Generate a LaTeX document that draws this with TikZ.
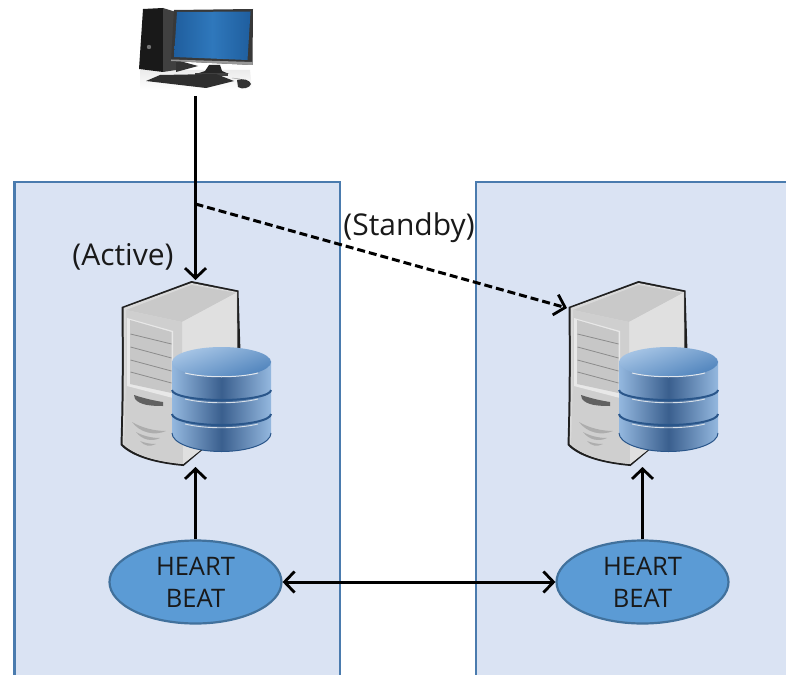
\documentclass[tikz,border=0pt]{standalone}
\usepackage{fontspec}
\setmainfont{Open Sans}
\usetikzlibrary{arrows.meta,shapes.geometric}
\definecolor{panelfill}{HTML}{DAE3F3}
\definecolor{panelline}{HTML}{4A7BAE}
\definecolor{hbfill}{HTML}{5B9BD5}
\definecolor{hbline}{HTML}{41719C}
\definecolor{dbedge}{HTML}{94B8DF}
\definecolor{dbdark}{HTML}{3A5F8E}
\definecolor{dbtopa}{HTML}{A8C6E6}
\definecolor{dbtopb}{HTML}{4F83BC}
\definecolor{dbline}{HTML}{2A568A}
\definecolor{screena}{HTML}{2F78BC}
\definecolor{screenb}{HTML}{1F5E9E}
\tikzset{
  x=1pt,y=-1pt,
  panel/.style={fill=panelfill,draw=panelline,line width=2.2pt},
  beat/.style={ellipse,fill=hbfill,draw=hbline,line width=2.2pt,minimum width=172pt,minimum height=83pt,inner sep=0pt,align=center,font=\fontsize{25.5}{32}\selectfont,text=black!90},
  label/.style={inner sep=0pt,font=\fontsize{30}{36}\selectfont,text=black!90},
  anchorbox/.style={inner sep=0pt,minimum width=0pt,minimum height=0pt},
  link/.style={line width=3pt,black,-{Straight Barb[length=10pt,width=21pt,line width=2.8pt]}},
  twolink/.style={line width=3pt,black,{Straight Barb[length=10pt,width=21pt,line width=2.8pt]}-{Straight Barb[length=10pt,width=21pt,line width=2.8pt]}},
  dashlink/.style={link,dash pattern=on 8pt off 4pt},
  server/.pic={
    % body
    \fill[black!88] (121.5,307) -- (191.5,281) -- (238.5,290.5) -- (240.5,352) -- (240,420) -- (200,452) -- (183.5,466) .. controls (150,463) and (130,455) .. (120.5,445) .. controls (122,400) and (122,350) .. (121.5,307) -- cycle;
    \fill[black!15] (123.5,308) -- (191.5,283) -- (237,292) -- (238,420) -- (183,464) .. controls (150,461) and (132,453) .. (122.5,444) .. controls (124,400) and (124,350) .. (123.5,308) -- cycle;
    \fill[black!21] (126,310) -- (191.5,285) -- (236,293) -- (182,322) -- cycle;
    \fill[black!12] (182,322) -- (236,293) -- (238,420) -- (183,464) -- cycle;
    \fill[black!19] (182,322) -- (183,464) .. controls (150,461) and (132,453) .. (124,444) .. controls (126,400) and (126,350) .. (126,310) -- cycle;
    % front panel
    \fill[black!9] (127,318) -- (173,331) -- (173,398) -- (127,386) -- cycle;
    \fill[black!22] (130,320) -- (171.5,332) -- (171.5,393) -- (130,384) -- cycle;
    \foreach \a/\b in {334/344,347/358,360/371,372/383}
      \draw[black!45,line width=.8pt] (130.5,\a) -- (171.5,\b);
    % slot
    \fill[black!62] (134,395) .. controls (140,397) and (150,400) .. (163,402) -- (163,406) .. controls (150,406) and (140,405) .. (135,399) -- cycle;
    % vents
    \fill[black!32] (132,422) .. controls (142,428) and (155,431) .. (166,431) .. controls (155,436) and (140,433) .. (132,422) -- cycle;
    \fill[black!32] (136,432) .. controls (143,436) and (152,438) .. (160,438) .. controls (152,442) and (142,440) .. (136,432) -- cycle;
    \fill[black!32] (140,441) .. controls (145,443) and (150,444) .. (156,444) .. controls (150,447) and (144,446) .. (140,441) -- cycle;
    % database
    \shade[left color=dbedge,right color=dbedge,middle color=dbdark] (172,361) -- (172,433) arc[start angle=180,end angle=360,x radius=49.5pt,y radius=18.5pt] -- (271,361) -- cycle;
    \shade[left color=dbtopa,right color=dbtopb,shading angle=20] (221.5,362) ellipse[x radius=49.5pt,y radius=15pt];
    \draw[white!85!dbdark,line width=1pt] (185,373) .. controls (205,378) and (238,378) .. (258,373);
    \draw[dbline,line width=2pt] (172,390) arc[start angle=180,end angle=360,x radius=49.5pt,y radius=10pt];
    \draw[white!80!dbdark,line width=.9pt] (185,399) .. controls (205,404) and (238,404) .. (258,399);
    \draw[dbline,line width=2pt] (172,414) arc[start angle=180,end angle=360,x radius=49.5pt,y radius=11pt];
    \draw[white!80!dbdark,line width=.9pt] (185,424) .. controls (205,429) and (238,429) .. (258,424);
    \draw[dbline,line width=1pt] (172,433) arc[start angle=180,end angle=360,x radius=49.5pt,y radius=18.5pt];
  }
}
\begin{document}
\begin{tikzpicture}
\useasboundingbox (0,0) rectangle (786,674);
\fill[white] (0,0) rectangle (786,674);
% panels
\draw[panel] (14.5,182) rectangle (340,690);
\draw[panel] (476,182) rectangle (800,690);
% computer
\shade[top color=black!8,bottom color=white] (140,70) -- (250,70) -- (252,90) -- (140,90) -- cycle;
\fill[black!90] (143,9) -- (163,8) -- (163,72) -- (139,69) -- cycle;
\fill[black!75] (163,8) -- (176,12) -- (176,70) -- (163,72) -- cycle;
\fill[black!55] (149,47) circle[radius=2.2pt];
\fill[black!80] (176,60) -- (198,66) -- (176,72) -- cycle;
\fill[black!78] (174,10) -- (253,9) -- (252.5,65) -- (171,61) -- cycle;
\fill[black!40] (171,59.5) -- (252.5,62) -- (252.5,65) -- (171,61) -- cycle;
\shade[left color=screenb,right color=screenb,middle color=screena] (177,12) -- (250.5,11.5) -- (247.5,60) -- (174,57) -- cycle;
\fill[black!85] (209,65) -- (220,65) -- (222,71) -- (229,74) -- (196,74) -- (205,71) -- cycle;
\fill[black!75] (195,73) rectangle (228,76);
\fill[black!82] (160,75) -- (216,74) -- (234,81) -- (206,88) -- (146,81) -- cycle;
\draw[black!35,line width=.5pt] (232,78) -- (240,79);
\fill[black!80] (237,80) .. controls (243,78) and (250,80) .. (251,84) .. controls (250,88) and (242,90) .. (238,87) -- cycle;
% named anchors
\node[anchorbox] (pc) at (195.5,96) {};
\node[anchorbox] (srvAtop) at (195.5,280) {};
\node[anchorbox] (srvAbot) at (195.5,467) {};
\node[anchorbox] (srvBtop) at (567,308) {};
\node[anchorbox] (srvBbot) at (642.5,467) {};
\coordinate (split) at (195.5,204);
% servers
\pic {server};
\begin{scope}[xshift=447pt]\pic {server};\end{scope}
% heartbeats
\node[beat] (hbA) at (195.5,582) {HEART\\BEAT};
\node[beat] (hbB) at (642.5,582) {HEART\\BEAT};
% labels
\node[label] (active) at (123,257) {(Active)};
\node[label] (standby) at (409,228) {(Standby)};
% connectors
\draw[link] (pc.center) -- (srvAtop.center);
\draw[dashlink] (split) -- (srvBtop.center);
\draw[link] (hbA.north) -- (srvAbot.center);
\draw[link] (hbB.north) -- (srvBbot.center);
\draw[twolink] (hbA.east) -- (hbB.west);
\end{tikzpicture}
\end{document}
